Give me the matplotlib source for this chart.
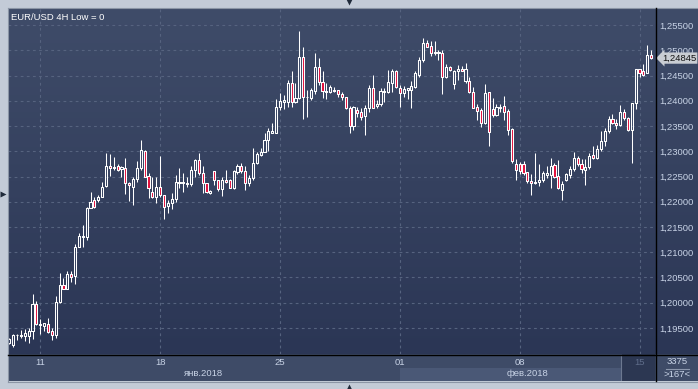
import numpy as np
import matplotlib
matplotlib.use("Agg")
import matplotlib.pyplot as plt
from matplotlib.patches import Rectangle
from matplotlib.collections import LineCollection, PatchCollection
from matplotlib.transforms import blended_transform_factory
from matplotlib.ticker import FuncFormatter

# EUR/USD 4H, 167 bars (10 Jan - 15 Feb 2018)
opens = [
    1.1920, 1.1917, 1.1936, 1.1934, 1.1934, 1.1935, 1.1945, 1.1997, 1.1955, 1.1954,
    1.1958, 1.1945, 1.1937, 1.2002, 1.2035, 1.2028, 1.2057, 1.2053, 1.2110, 1.2130,
    1.2130, 1.2187, 1.2203, 1.2203, 1.2210, 1.2232, 1.2270, 1.2266, 1.2270, 1.2265,
    1.2267, 1.2238, 1.2230, 1.2245, 1.2267, 1.2300, 1.2251, 1.2219, 1.2209, 1.2230,
    1.2213, 1.2191, 1.2197, 1.2205, 1.2238, 1.2238, 1.2238, 1.2235, 1.2262, 1.2283,
    1.2256, 1.2238, 1.2218, 1.2261, 1.2244, 1.2225, 1.2243, 1.2243, 1.2228, 1.2259,
    1.2270, 1.2260, 1.2238, 1.2248, 1.2276, 1.2293, 1.2299, 1.2322, 1.2337, 1.2337,
    1.2388, 1.2398, 1.2397, 1.2435, 1.2397, 1.2405, 1.2487, 1.2407, 1.2405, 1.2420,
    1.2466, 1.2438, 1.2420, 1.2418, 1.2421, 1.2421, 1.2414, 1.2407, 1.2385, 1.2351,
    1.2382, 1.2377, 1.2370, 1.2385, 1.2425, 1.2390, 1.2394, 1.2418, 1.2418, 1.2436,
    1.2459, 1.2425, 1.2415, 1.2421, 1.2421, 1.2428, 1.2451, 1.2481, 1.2514, 1.2508,
    1.2494, 1.2497, 1.2494, 1.2448, 1.2466, 1.2433, 1.2458, 1.2463, 1.2439, 1.2440,
    1.2417, 1.2388, 1.2382, 1.2355, 1.2417, 1.2383, 1.2371, 1.2386, 1.2389, 1.2379,
    1.2344, 1.2275, 1.2274, 1.2274, 1.2258, 1.2241, 1.2237, 1.2239, 1.2243, 1.2253,
    1.2253, 1.2272, 1.2251, 1.2224, 1.2244, 1.2253, 1.2264, 1.2287, 1.2274, 1.2262,
    1.2268, 1.2293, 1.2287, 1.2305, 1.2320, 1.2340, 1.2363, 1.2356, 1.2352, 1.2377,
    1.2366, 1.2343, 1.2396, 1.2463, 1.2458, 1.2455, 1.2491,
]
highs = [
    1.1931, 1.1938, 1.1938, 1.1947, 1.1948, 1.1950, 1.2017, 1.2003, 1.1967, 1.1960,
    1.1969, 1.1950, 1.2013, 1.2058, 1.2049, 1.2063, 1.2063, 1.2117, 1.2139, 1.2153,
    1.2190, 1.2220, 1.2209, 1.2213, 1.2240, 1.2297, 1.2295, 1.2289, 1.2275, 1.2271,
    1.2287, 1.2240, 1.2250, 1.2280, 1.2323, 1.2302, 1.2257, 1.2250, 1.2250, 1.2290,
    1.2213, 1.2203, 1.2218, 1.2253, 1.2266, 1.2256, 1.2250, 1.2271, 1.2284, 1.2296,
    1.2271, 1.2238, 1.2223, 1.2261, 1.2244, 1.2250, 1.2263, 1.2246, 1.2263, 1.2274,
    1.2276, 1.2270, 1.2253, 1.2306, 1.2299, 1.2306, 1.2336, 1.2347, 1.2355, 1.2403,
    1.2416, 1.2411, 1.2441, 1.2459, 1.2435, 1.2538, 1.2507, 1.2421, 1.2425, 1.2494,
    1.2484, 1.2458, 1.2435, 1.2431, 1.2428, 1.2421, 1.2418, 1.2408, 1.2390, 1.2390,
    1.2387, 1.2385, 1.2392, 1.2431, 1.2451, 1.2402, 1.2425, 1.2425, 1.2461, 1.2462,
    1.2461, 1.2431, 1.2429, 1.2426, 1.2440, 1.2458, 1.2487, 1.2524, 1.2520, 1.2518,
    1.2518, 1.2500, 1.2500, 1.2472, 1.2469, 1.2461, 1.2471, 1.2468, 1.2474, 1.2448,
    1.2428, 1.2393, 1.2385, 1.2433, 1.2418, 1.2406, 1.2394, 1.2394, 1.2409, 1.2383,
    1.2346, 1.2284, 1.2278, 1.2280, 1.2258, 1.2254, 1.2297, 1.2274, 1.2260, 1.2270,
    1.2287, 1.2277, 1.2282, 1.2241, 1.2256, 1.2270, 1.2298, 1.2291, 1.2284, 1.2284,
    1.2297, 1.2310, 1.2313, 1.2340, 1.2346, 1.2369, 1.2373, 1.2363, 1.2392, 1.2383,
    1.2368, 1.2396, 1.2463, 1.2463, 1.2472, 1.2511, 1.2500,
]
lows = [
    1.1918, 1.1913, 1.1927, 1.1931, 1.1925, 1.1920, 1.1929, 1.1955, 1.1938, 1.1945,
    1.1940, 1.1927, 1.1930, 1.2000, 1.2027, 1.2027, 1.2042, 1.2038, 1.2110, 1.2110,
    1.2125, 1.2187, 1.2187, 1.2200, 1.2209, 1.2230, 1.2251, 1.2262, 1.2260, 1.2250,
    1.2215, 1.2202, 1.2193, 1.2240, 1.2263, 1.2249, 1.2208, 1.2207, 1.2197, 1.2209,
    1.2165, 1.2177, 1.2185, 1.2200, 1.2227, 1.2220, 1.2230, 1.2232, 1.2250, 1.2253,
    1.2218, 1.2217, 1.2215, 1.2233, 1.2222, 1.2211, 1.2238, 1.2227, 1.2225, 1.2255,
    1.2256, 1.2223, 1.2232, 1.2244, 1.2274, 1.2291, 1.2299, 1.2301, 1.2337, 1.2337,
    1.2382, 1.2383, 1.2388, 1.2387, 1.2396, 1.2403, 1.2363, 1.2368, 1.2402, 1.2413,
    1.2431, 1.2405, 1.2403, 1.2416, 1.2418, 1.2408, 1.2402, 1.2383, 1.2336, 1.2342,
    1.2368, 1.2362, 1.2332, 1.2378, 1.2385, 1.2385, 1.2390, 1.2398, 1.2415, 1.2418,
    1.2425, 1.2388, 1.2407, 1.2403, 1.2385, 1.2425, 1.2448, 1.2477, 1.2507, 1.2489,
    1.2491, 1.2480, 1.2414, 1.2445, 1.2459, 1.2423, 1.2441, 1.2458, 1.2436, 1.2415,
    1.2385, 1.2362, 1.2349, 1.2353, 1.2311, 1.2368, 1.2369, 1.2377, 1.2361, 1.2333,
    1.2277, 1.2244, 1.2254, 1.2252, 1.2237, 1.2213, 1.2236, 1.2231, 1.2239, 1.2247,
    1.2227, 1.2247, 1.2225, 1.2204, 1.2241, 1.2247, 1.2260, 1.2270, 1.2256, 1.2234,
    1.2264, 1.2284, 1.2284, 1.2300, 1.2311, 1.2336, 1.2353, 1.2344, 1.2350, 1.2361,
    1.2340, 1.2276, 1.2384, 1.2447, 1.2450, 1.2454, 1.2483,
]
closes = [
    1.1929, 1.1937, 1.1937, 1.1937, 1.1940, 1.1945, 1.1997, 1.1957, 1.1958, 1.1959,
    1.1942, 1.1937, 1.2002, 1.2035, 1.2028, 1.2057, 1.2051, 1.2110, 1.2132, 1.2132,
    1.2187, 1.2200, 1.2190, 1.2210, 1.2230, 1.2270, 1.2266, 1.2269, 1.2262, 1.2268,
    1.2237, 1.2233, 1.2245, 1.2267, 1.2303, 1.2249, 1.2227, 1.2209, 1.2229, 1.2213,
    1.2190, 1.2197, 1.2205, 1.2240, 1.2240, 1.2240, 1.2235, 1.2263, 1.2283, 1.2256,
    1.2238, 1.2220, 1.2221, 1.2244, 1.2225, 1.2243, 1.2240, 1.2228, 1.2260, 1.2270,
    1.2260, 1.2238, 1.2248, 1.2276, 1.2294, 1.2299, 1.2322, 1.2340, 1.2340, 1.2388,
    1.2400, 1.2402, 1.2436, 1.2397, 1.2405, 1.2487, 1.2407, 1.2408, 1.2421, 1.2467,
    1.2438, 1.2420, 1.2418, 1.2427, 1.2419, 1.2414, 1.2407, 1.2385, 1.2351, 1.2387,
    1.2376, 1.2368, 1.2385, 1.2425, 1.2385, 1.2394, 1.2420, 1.2420, 1.2438, 1.2459,
    1.2427, 1.2415, 1.2423, 1.2425, 1.2429, 1.2454, 1.2481, 1.2514, 1.2507, 1.2494,
    1.2497, 1.2494, 1.2448, 1.2466, 1.2461, 1.2458, 1.2462, 1.2459, 1.2463, 1.2417,
    1.2386, 1.2380, 1.2355, 1.2415, 1.2339, 1.2371, 1.2388, 1.2388, 1.2377, 1.2343,
    1.2280, 1.2262, 1.2260, 1.2256, 1.2241, 1.2237, 1.2240, 1.2243, 1.2256, 1.2257,
    1.2270, 1.2249, 1.2227, 1.2236, 1.2254, 1.2265, 1.2287, 1.2274, 1.2264, 1.2268,
    1.2291, 1.2287, 1.2305, 1.2320, 1.2340, 1.2363, 1.2356, 1.2352, 1.2377, 1.2366,
    1.2342, 1.2396, 1.2463, 1.2454, 1.2452, 1.2491, 1.24845,
]

# price scale ticks, first bar of each thursday and the labels shown
price_ticks = [1.195, 1.200, 1.205, 1.210, 1.215, 1.220, 1.225,
               1.230, 1.235, 1.240, 1.245, 1.250, 1.255]
date_ticks = [8, 39, 70, 101, 132, 163]
date_labels = ["11", "18", "25", "01", "08", "15"]
months = ["янв.2018", "фев.2018"]

W, H = 698, 389
BG = "#c3cbd7"
TXT = "#c8d3e6"
RED = "#e3103d"
FONT = "Liberation Sans"

fig = plt.figure(figsize=(W / 100, H / 100), dpi=100, facecolor=BG)


def px_axes(x0, y0, x1, y1, **kw):
    return fig.add_axes([x0 / W, 1 - y1 / H, (x1 - x0) / W, (y1 - y0) / H], **kw)


# gradient panel behind chart + price scale
bg = px_axes(8, 8, 698, 354)
grad = np.linspace(0, 1, 256).reshape(-1, 1)
top = np.array([0x3f, 0x4c, 0x69]) / 255
bot = np.array([0x2b, 0x36, 0x55]) / 255
img = top + (bot - top) * grad[..., None]
bg.imshow(img, aspect="auto", extent=[0, 1, 0, 1])
bg.set_axis_off()

ax = px_axes(8, 8, 655, 354)
ax.set_facecolor("none")
n = len(opens)
x = np.arange(n)
ax.set_xlim(-0.35, 167.0)
ax.set_ylim(1.18985, 1.25837)

ax.set_yticks(price_ticks)
ax.yaxis.tick_right()
ax.yaxis.set_major_formatter(FuncFormatter(lambda v, p: f"{v:.5f}".replace(".", ",")))
ax.tick_params(axis="y", length=0, pad=3, labelsize=6.8, labelcolor=TXT)
ax.set_xticks(date_ticks)
ax.tick_params(axis="x", length=0, labelbottom=False)
for s in ax.spines.values():
    s.set_visible(False)
ax.grid(True, color="#56637f", lw=0.8, linestyle=(0, (2.5, 3)))
ax.set_axisbelow(True)
for t in ax.get_yticklabels():
    t.set_family(FONT)

# candles
o = np.array(opens); c = np.array(closes); h = np.array(highs); l = np.array(lows)
btop = np.maximum(o, c); bbot = np.minimum(o, c)
segs = [[(i, btop[i]), (i, h[i])] for i in range(n)] + [[(i, l[i]), (i, bbot[i])] for i in range(n)]
ax.add_collection(LineCollection(segs, colors="white", linewidths=0.75, zorder=3))
bw = 0.55
rects = [Rectangle((i - bw / 2, bbot[i]), bw, max(btop[i] - bbot[i], 0.00002)) for i in range(n)]
fcs = [RED if c[i] < o[i] else "none" for i in range(n)]
ax.add_collection(PatchCollection(rects, facecolors=fcs, edgecolors="white", linewidths=0.75, zorder=4))

ax.text(0.004, 0.985, "EUR/USD 4H Low = 0", transform=ax.transAxes, ha="left", va="top",
        fontsize=6.8, color="white", family=FONT)

# current price tag
tr = blended_transform_factory(ax.transAxes, ax.transData)
ax.text(1.0 + 7 / 647, closes[-1], f"{closes[-1]:.5f}".replace(".", ","), transform=tr,
        ha="left", va="center", fontsize=6.8, color="#111111", family=FONT,
        bbox=dict(boxstyle="larrow,pad=0.12", fc="#c9cdd3", ec="none"), zorder=10)

# time axis band
tax = px_axes(8, 354, 655, 381, sharex=ax)
tax.set_facecolor("#3e4b67")
tax.set_ylim(0, 1)
tax.tick_params(bottom=False, labelbottom=False, left=False, labelleft=False)
for s in tax.spines.values():
    s.set_visible(False)
tax.add_patch(Rectangle((date_ticks[3], 0), 167.0 - date_ticks[3], 0.48, fc="#4a5876", ec="none"))
# darker box at the right end of the time scale
tax.add_patch(Rectangle((613.5 / 647, 0), 1 - 613.5 / 647, 1, transform=tax.transAxes,
                        fc="#2c3752", ec="none", zorder=3))
tax.plot([613 / 647, 613 / 647], [0.05, 0.92], transform=tax.transAxes, color="#6c7890",
         lw=0.8, zorder=3)
for xt, lab in zip(date_ticks, date_labels):
    col = "#5f6d8a" if xt == date_ticks[-1] else TXT
    tax.text(xt, 0.68, lab, ha="center", va="center", fontsize=6.8, color=col,
             family=FONT, zorder=5)
tax.text((-0.35 + date_ticks[3]) / 2, 0.28, months[0], ha="center", va="center",
         fontsize=6.8, color=TXT, family=FONT)
tax.text((date_ticks[3] + 167.0) / 2, 0.28, months[1], ha="center", va="center",
         fontsize=6.8, color=TXT, family=FONT)

# overlay in pixel coords for frame pieces
ov = fig.add_axes([0, 0, 1, 1], facecolor="none")
ov.set_xlim(0, W)
ov.set_ylim(H, 0)
ov.set_axis_off()
ov.add_patch(Rectangle((655, 354), 43, 27, fc="#3e4b67", ec="none", zorder=1))
ov.plot([655.5, 655.5], [8, 381], color="black", lw=1.0, zorder=3)
ov.plot([8, 698], [354.5, 354.5], color="black", lw=1.0, zorder=3)
ov.plot([7.5, 7.5], [7.5, 381.5], color="#8b95a5", lw=0.8)
ov.plot([7.5, 698], [7.5, 7.5], color="#8b95a5", lw=0.8)
ov.plot([7.5, 698], [381.5, 381.5], color="#8b95a5", lw=0.8)
ov.text(677, 362, "3375", ha="center", va="center", fontsize=6.8, color=TXT, family=FONT)
ov.plot([666, 689], [368.5, 368.5], color="#8c97ad", lw=0.8)
ov.text(677, 374.5, f">{n}<", ha="center", va="center", fontsize=6.8, color=TXT, family=FONT)
ov.plot([349], [2], marker="v", ms=5, color="#1f2a3a", mec="none")
ov.plot([349], [387], marker="^", ms=5, color="#1f2a3a", mec="none")
ov.plot([2.5], [194], marker=">", ms=5, color="#1f2a3a", mec="none")

fig.savefig("out.png", dpi=100, facecolor=BG)
